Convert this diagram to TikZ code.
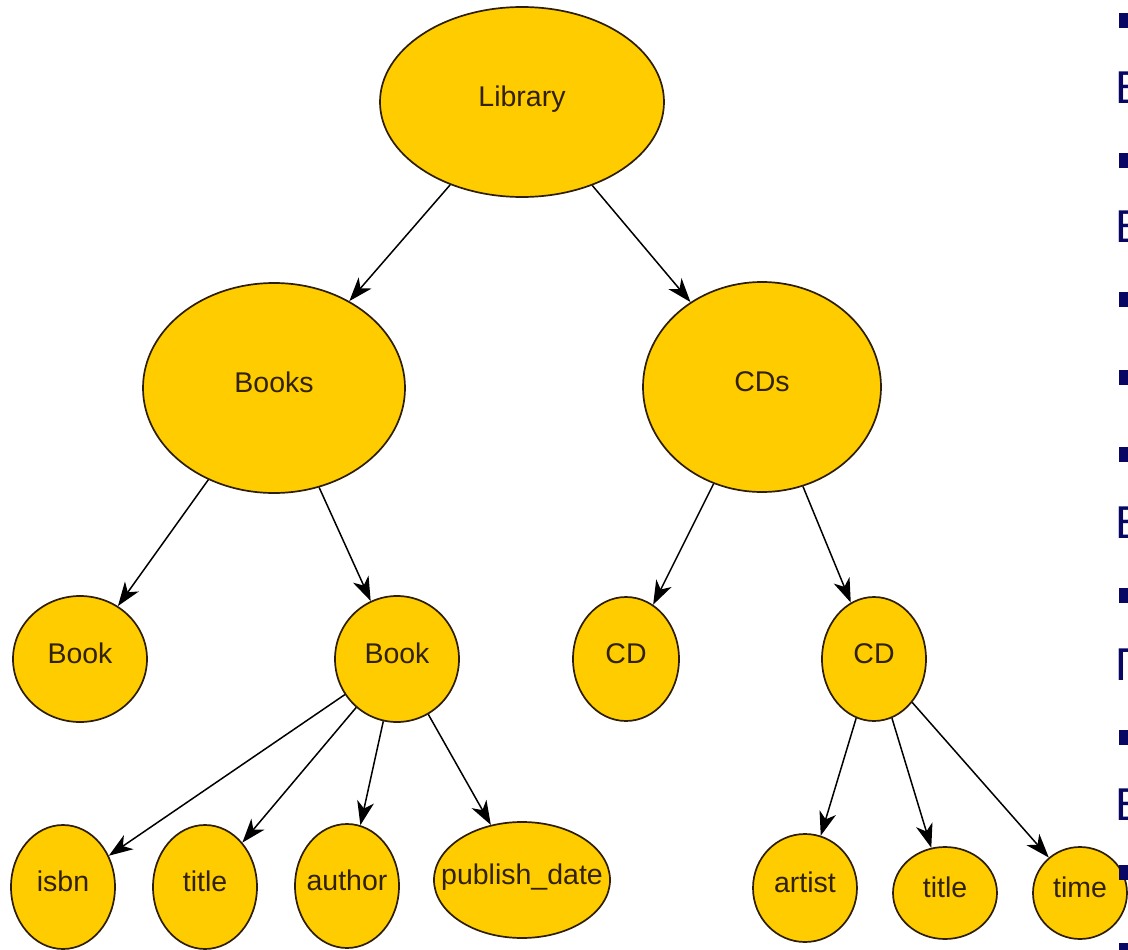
\documentclass[tikz,border=0pt]{standalone}
\usepackage{fontspec}
\setmainfont{Liberation Sans}
\usetikzlibrary{shapes.geometric,arrows.meta}
\definecolor{nodefill}{RGB}{255,204,0}
\definecolor{nodeborder}{RGB}{45,30,5}
\definecolor{nodetext}{RGB}{50,34,4}
\definecolor{navy}{RGB}{8,8,100}
\newcommand{\ztxt}[1]{\makebox[0pt][c]{#1}}
\tikzset{
  elem/.style={ellipse, draw=nodeborder, line width=1.7pt, fill=nodefill,
    inner sep=0pt, text=nodetext, font=\fontsize{28.5}{31}\selectfont,
    text height=0.86em, text depth=0pt},
  edge/.style={draw=black, line width=1.5pt,
    -{Stealth[length=24pt,width=17pt,inset=7pt]}},
  slidetext/.style={anchor=base west, inner sep=0pt, text=navy,
    font=\fontsize{46}{50}\selectfont},
  bulletsq/.style={fill=navy, draw=none}
}
\begin{document}
\begin{tikzpicture}[x=1pt,y=-1pt]
\path[use as bounding box] (0,0) rectangle (1128,950);
\clip (0,0) rectangle (1128,950);
\fill[white] (0,0) rectangle (1128,950);

% nodes
\node[elem, minimum width=284pt, minimum height=190pt] (lib) at (522,102) {\ztxt{Library}};
\node[elem, minimum width=262pt, minimum height=210pt] (books) at (274,388) {\ztxt{Books}};
\node[elem, minimum width=238pt, minimum height=210pt] (cds) at (762,387) {\ztxt{CDs}};
\node[elem, minimum width=134pt, minimum height=126pt] (book1) at (80,659) {\ztxt{Book}};
\node[elem, minimum width=124pt, minimum height=126pt] (book2) at (397,659) {\ztxt{Book}};
\node[elem, minimum width=106pt, minimum height=124pt] (cd1) at (626,659) {\ztxt{CD}};
\node[elem, minimum width=104pt, minimum height=124pt] (cd2) at (874,659) {\ztxt{CD}};
\node[elem, minimum width=104pt, minimum height=124pt] (isbn) at (63,887) {\ztxt{isbn}};
\node[elem, minimum width=104pt, minimum height=124pt] (title1) at (205,887) {\ztxt{title}};
\node[elem, minimum width=104pt, minimum height=124pt] (author) at (347,886) {\ztxt{author}};
\node[elem, minimum width=176pt, minimum height=116pt] (pubdate) at (522,880) {\ztxt{publish\_date}};
\node[elem, minimum width=104pt, minimum height=108pt] (artist) at (805,888) {\ztxt{artist}};
\node[elem, minimum width=104pt, minimum height=92pt] (title2) at (945,893) {\ztxt{title}};
\node[elem, minimum width=94pt, minimum height=92pt] (time) at (1080,893) {\ztxt{time}};

% edges
\draw[edge] (lib) -- (books);
\draw[edge] (lib) -- (cds);
\draw[edge] (books) -- (book1);
\draw[edge] (books) -- (book2);
\draw[edge] (cds) -- (cd1);
\draw[edge] (cds) -- (cd2);
\draw[edge] (book2) -- (isbn);
\draw[edge] (book2) -- (title1);
\draw[edge] (book2) -- (author);
\draw[edge] (book2) -- (pubdate);
\draw[edge] (cd2) -- (artist);
\draw[edge] (cd2) -- (title2);
\draw[edge] (cd2) -- (time);

% cropped slide text on the right edge
\node[slidetext] (s1) at (1115,103) {Б};
\node[slidetext] (s2) at (1115,242) {Б};
\node[slidetext] (s3) at (1115,538) {Б};
\node[slidetext] (s4) at (1115,680) {П};
\node[slidetext] (s5) at (1115,820) {Б};
\foreach \yy in {13,153,292,370,447,588,730,865,943}
  \fill[bulletsq] (1119,\yy) rectangle (1134,\yy+15);
\end{tikzpicture}
\end{document}
